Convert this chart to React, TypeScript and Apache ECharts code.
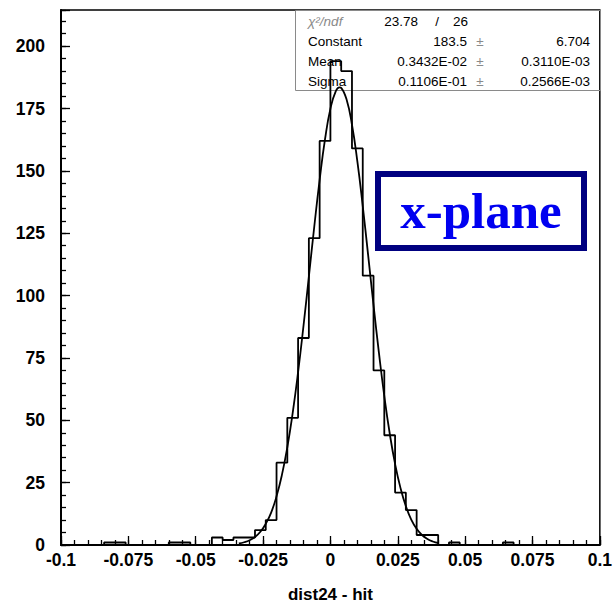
import React, { useEffect, useRef } from 'react';
import * as echarts from 'echarts';

// ---- Data ----
const xMin = -0.1;
const xMax = 0.1;
const binWidth = 0.004;
const yMax = 214.5;

// 50 bins of width 0.004 from -0.1 to 0.1 (dist24 - hit)
const binCounts = [
  0, 0, 0, 0, 1, 1, 0, 0, 0, 0,
  1, 1, 0, 0, 3, 2, 3, 3, 6, 10,
  33, 51, 83, 123, 162, 194, 190, 159, 108, 70,
  44, 21, 14, 4, 4, 0, 1, 0, 0, 0,
  0, 1, 0, 0, 0, 0, 0, 0, 0, 0,
];

// Gaussian fit curve
const fitX = [
  -0.034, -0.032, -0.03, -0.028, -0.026, -0.024, -0.022, -0.02, -0.018, -0.016,
  -0.014, -0.012, -0.01, -0.008, -0.006, -0.004, -0.002, 0.0, 0.002, 0.0034,
  0.004, 0.006, 0.008, 0.01, 0.012, 0.014, 0.016, 0.018, 0.02, 0.022,
  0.024, 0.026, 0.028, 0.03, 0.032, 0.034, 0.036, 0.038, 0.04,
];
const fitY = [
  0.6, 1.1, 1.9, 3.2, 5.3, 8.5, 13.0, 19.5, 28.1, 39.2,
  53.0, 69.3, 87.8, 107.6, 127.6, 146.4, 162.7, 174.9, 182.0, 183.5,
  183.3, 178.6, 168.5, 153.8, 135.9, 116.2, 96.2, 77.1, 59.7, 44.8,
  32.5, 22.9, 15.6, 10.2, 6.5, 4.0, 2.4, 1.4, 0.8,
];

const xTickLabels = ['-0.1', '-0.075', '-0.05', '-0.025', '0', '0.025', '0.05', '0.075', '0.1'];
const yTickLabels = ['0', '25', '50', '75', '100', '125', '150', '175', '200'];

const statNames = ['Constant', 'Mean', 'Sigma'];
const statValues = ['183.5', '0.3432E-02', '0.1106E-01'];
const statErrors = ['6.704', '0.3110E-03', '0.2566E-03'];
const chi2Text = '23.78';
const ndfText = '26';

const FONT = '"Liberation Sans", Arial, Helvetica, sans-serif';

function buildOption(): any {
  const histData: number[][] = binCounts.map((c, i) => [xMin + i * binWidth, c]);
  histData.push([xMax, binCounts[binCounts.length - 1]]);
  const fitData = fitX.map((x, i) => [x, fitY[i]]);

  const statRowsY = [41.5, 61.5, 81.5];
  const sFont = `13.5px ${FONT}`;
  const graphics: any[] = [
    {
      type: 'rect',
      z: 0,
      shape: { x: 295.5, y: 10.5, width: 305, height: 80 },
      style: { fill: 'none', stroke: '#8a8a8a', lineWidth: 1 },
    },
    {
      type: 'text', z: 1, x: 308, y: 21.5,
      style: { text: 'χ²/ndf', font: `italic 13.5px ${FONT}`, fill: '#8a8a8a', verticalAlign: 'middle', align: 'left' },
    },
    {
      type: 'text', z: 1, x: 418, y: 21.5,
      style: { text: chi2Text, font: sFont, fill: '#000', verticalAlign: 'middle', align: 'right' },
    },
    {
      type: 'text', z: 1, x: 437, y: 21.5,
      style: { text: '/', font: sFont, fill: '#000', verticalAlign: 'middle', align: 'center' },
    },
    {
      type: 'text', z: 1, x: 453, y: 21.5,
      style: { text: ndfText, font: sFont, fill: '#000', verticalAlign: 'middle', align: 'left' },
    },
  ];
  statNames.forEach((n, i) => {
    const y = statRowsY[i];
    graphics.push(
      { type: 'text', z: 1, x: 308, y, style: { text: n, font: sFont, fill: '#000', verticalAlign: 'middle', align: 'left' } },
      { type: 'text', z: 1, x: 467, y, style: { text: statValues[i], font: sFont, fill: '#000', verticalAlign: 'middle', align: 'right' } },
      { type: 'text', z: 1, x: 480, y, style: { text: '±', font: sFont, fill: '#8a8a8a', verticalAlign: 'middle', align: 'center' } },
      { type: 'text', z: 1, x: 590, y, style: { text: statErrors[i], font: sFont, fill: '#000', verticalAlign: 'middle', align: 'right' } },
    );
  });
  graphics.push(
    {
      type: 'rect', z: 1,
      shape: { x: 378, y: 174, width: 206, height: 74 },
      style: { fill: '#fff', stroke: '#000080', lineWidth: 6 },
    },
    {
      type: 'text', z: 2, x: 481, y: 211,
      style: { text: 'x-plane', font: `bold 51px "Liberation Serif", "Times New Roman", serif`, fill: '#0000f0', verticalAlign: 'middle', align: 'center' },
    },
  );

  const xLabelFmt = (v: number) => {
    const i = Math.round((v - xMin) / 0.025);
    return Math.abs(xMin + i * 0.025 - v) < 1e-9 && xTickLabels[i] ? xTickLabels[i] : '';
  };
  const yLabelFmt = (v: number) => {
    const i = Math.round(v / 25);
    return Math.abs(i * 25 - v) < 1e-9 && yTickLabels[i] ? yTickLabels[i] : '';
  };

  return {
    animation: false,
    backgroundColor: '#fff',
    grid: {
      left: 61, right: 14, top: 10, bottom: 56,
      show: true, borderColor: '#000', borderWidth: 1.5, backgroundColor: 'transparent',
    },
    xAxis: [
      {
        type: 'value', min: xMin, max: xMax, interval: 0.025, position: 'bottom',
        name: 'dist24 - hit', nameLocation: 'middle', nameGap: 41,
        nameTextStyle: { fontFamily: FONT, fontWeight: 'bold', fontSize: 17, color: '#000' },
        axisLine: { show: true, onZero: false, lineStyle: { color: '#000', width: 2 } },
        axisTick: { show: true, inside: true, length: 9, lineStyle: { color: '#000', width: 1.3 } },
        axisLabel: { show: true, formatter: xLabelFmt, margin: 6, fontFamily: FONT, fontWeight: 'bold', fontSize: 17.5, color: '#000' },
        splitLine: { show: false },
      },
      {
        type: 'value', min: xMin, max: xMax, interval: 0.005, position: 'bottom',
        axisLine: { show: false, onZero: false },
        axisTick: { show: true, inside: true, length: 5, lineStyle: { color: '#000', width: 1.3 } },
        axisLabel: { show: false },
        splitLine: { show: false },
      },
    ],
    yAxis: [
      {
        type: 'value', min: 0, max: yMax, interval: 25, position: 'left',
        axisLine: { show: true, onZero: false, lineStyle: { color: '#000', width: 2 } },
        axisTick: { show: true, inside: true, length: 9, lineStyle: { color: '#000', width: 1.3 } },
        axisLabel: { show: true, formatter: yLabelFmt, margin: 16, fontFamily: FONT, fontWeight: 'bold', fontSize: 17.5, color: '#000' },
        splitLine: { show: false },
      },
      {
        type: 'value', min: 0, max: yMax, interval: 5, position: 'left',
        axisLine: { show: false, onZero: false },
        axisTick: { show: true, inside: true, length: 5, lineStyle: { color: '#000', width: 1.3 } },
        axisLabel: { show: false },
        splitLine: { show: false },
      },
    ],
    series: [
      {
        type: 'line', name: 'hist', xAxisIndex: 0, yAxisIndex: 0,
        data: histData, step: 'end', symbol: 'none', z: 3,
        lineStyle: { color: '#000', width: 1.8 },
      },
      {
        type: 'line', name: 'fit', xAxisIndex: 0, yAxisIndex: 0,
        data: fitData, smooth: true, symbol: 'none', z: 4,
        lineStyle: { color: '#000', width: 1.8 },
      },
    ],
    graphic: graphics,
  };
}

export default function App() {
  const ref = useRef<HTMLDivElement>(null);
  useEffect(() => {
    if (!ref.current) return;
    const chart = echarts.init(ref.current, null, { renderer: 'svg' });
    chart.setOption(buildOption());
    return () => chart.dispose();
  }, []);
  return (
    <div
      ref={ref}
      style={{ position: 'fixed', left: 0, top: 0, width: 615, height: 608, background: '#fff' }}
    />
  );
}
